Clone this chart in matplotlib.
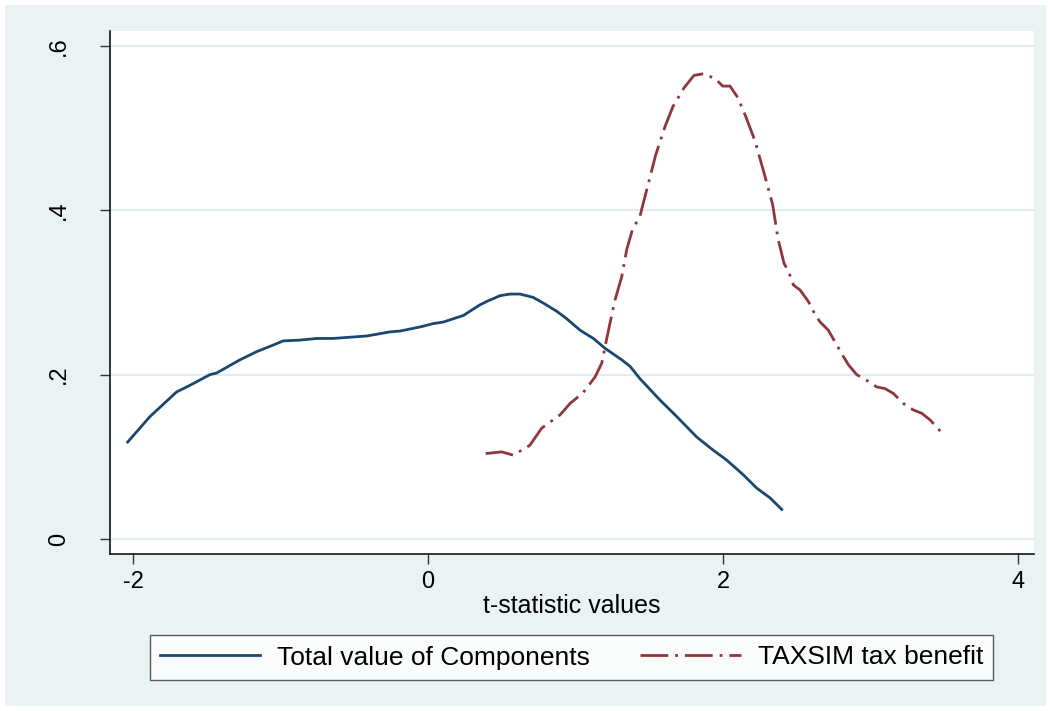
import matplotlib
matplotlib.use("Agg")
import matplotlib.pyplot as plt
from matplotlib.patches import Rectangle

# kernel density curves
comp_x = [-2.036, -1.885, -1.704, -1.614, -1.478, -1.433, -1.275, -1.161, -1.049,
          -0.983, -0.868, -0.755, -0.644, -0.416, -0.258, -0.19, -0.054, 0.034,
          0.104, 0.24, 0.353, 0.398, 0.488, 0.556, 0.624, 0.712, 0.782, 0.873,
          0.94, 1.031, 1.121, 1.20, 1.313, 1.37, 1.437, 1.573, 1.686, 1.822,
          1.934, 2.025, 2.138, 2.228, 2.319, 2.398]
comp_y = [0.118, 0.149, 0.179, 0.187, 0.200, 0.202, 0.218, 0.228, 0.236,
          0.241, 0.242, 0.244, 0.244, 0.247, 0.252, 0.253, 0.258, 0.262,
          0.264, 0.272, 0.285, 0.289, 0.296, 0.298, 0.298, 0.294, 0.287, 0.277,
          0.268, 0.254, 0.244, 0.232, 0.218, 0.210, 0.195, 0.169, 0.149, 0.124,
          0.108, 0.096, 0.078, 0.062, 0.050, 0.036]

tax_x = [0.391, 0.50, 0.578, 0.69, 0.771, 0.895, 0.963, 1.051, 1.132, 1.178,
         1.20, 1.234, 1.268, 1.313, 1.347, 1.385, 1.437, 1.49, 1.543, 1.607,
         1.66, 1.736, 1.803, 1.868, 1.946, 1.998, 2.047, 2.10, 2.154, 2.217,
         2.283, 2.336, 2.373, 2.414, 2.443, 2.477, 2.522, 2.578, 2.624, 2.658,
         2.714, 2.771, 2.816, 2.85, 2.906, 2.974, 3.042, 3.098, 3.155, 3.222,
         3.29, 3.347, 3.403, 3.494]
tax_y = [0.104, 0.106, 0.102, 0.114, 0.135, 0.151, 0.165, 0.178, 0.197, 0.214,
         0.234, 0.263, 0.291, 0.319, 0.352, 0.376, 0.393, 0.43, 0.467, 0.502,
         0.526, 0.549, 0.564, 0.566, 0.560, 0.551, 0.551, 0.537, 0.514, 0.484,
         0.442, 0.407, 0.365, 0.335, 0.326, 0.309, 0.303, 0.289, 0.273, 0.264,
         0.254, 0.236, 0.222, 0.212, 0.200, 0.193, 0.185, 0.183, 0.177, 0.165,
         0.157, 0.153, 0.145, 0.127]

xticks = [-2, 0, 2, 4]
yticks = [0, 0.2, 0.4, 0.6]
ytick_labels = ["0", ".2", ".4", ".6"]
labels = ["Total value of Components", "TAXSIM tax benefit"]

bg = "#EAF2F3"
navy = "#1A476F"
maroon = "#90353B"

plt.rcParams["font.family"] = ["Liberation Sans", "DejaVu Sans"]

fig = plt.figure(figsize=(10.51, 7.11), dpi=100)
fig.patch.set_facecolor("white")
fig.patches.append(Rectangle((5 / 1051, 5 / 711), 1041 / 1051, 701 / 711,
                             transform=fig.transFigure, facecolor=bg,
                             edgecolor="none", zorder=-10))

ax = fig.add_axes([110 / 1051, 157 / 711, 924 / 1051, 523 / 711])
ax.set_facecolor("white")

ax.plot(comp_x, comp_y, color=navy, lw=2.0, label=labels[0])
ax.plot(tax_x, tax_y, color=maroon, lw=2.0, dashes=(10, 2.5, 1, 2.5),
        label=labels[1])

ax.set_xlim(-2.156, 4.108)
ax.set_ylim(-0.0182, 0.618)
ax.set_xticks(xticks)
ax.set_xticklabels([str(v) for v in xticks])
ax.set_yticks(yticks)
ax.set_yticklabels(ytick_labels, rotation=90, va="center")
ax.grid(axis="y", color="#E3ECEE", lw=1.5)
ax.set_axisbelow(True)

for s in ["top", "right"]:
    ax.spines[s].set_visible(False)
for s in ["left", "bottom"]:
    ax.spines[s].set_linewidth(1.1)
    ax.spines[s].set_color("black")

ax.tick_params(axis="x", length=7, width=1, color="#333333", labelsize=17, pad=5)
ax.tick_params(axis="y", length=7, width=1, color="#333333", labelsize=17, pad=22)
ax.set_xlabel("t-statistic values", fontsize=18, labelpad=1)

leg = ax.legend(loc="center", bbox_to_anchor=(571.5 / 1051, 1 - 657.5 / 711),
                bbox_transform=fig.transFigure, ncol=2, fontsize=19,
                frameon=True, fancybox=False, edgecolor="#333333",
                handlelength=3.8, handletextpad=0.65, columnspacing=1.9,
                borderpad=0.38)
leg.get_frame().set_linewidth(1.0)

fig.savefig("out.png", dpi=100, facecolor=fig.get_facecolor())
